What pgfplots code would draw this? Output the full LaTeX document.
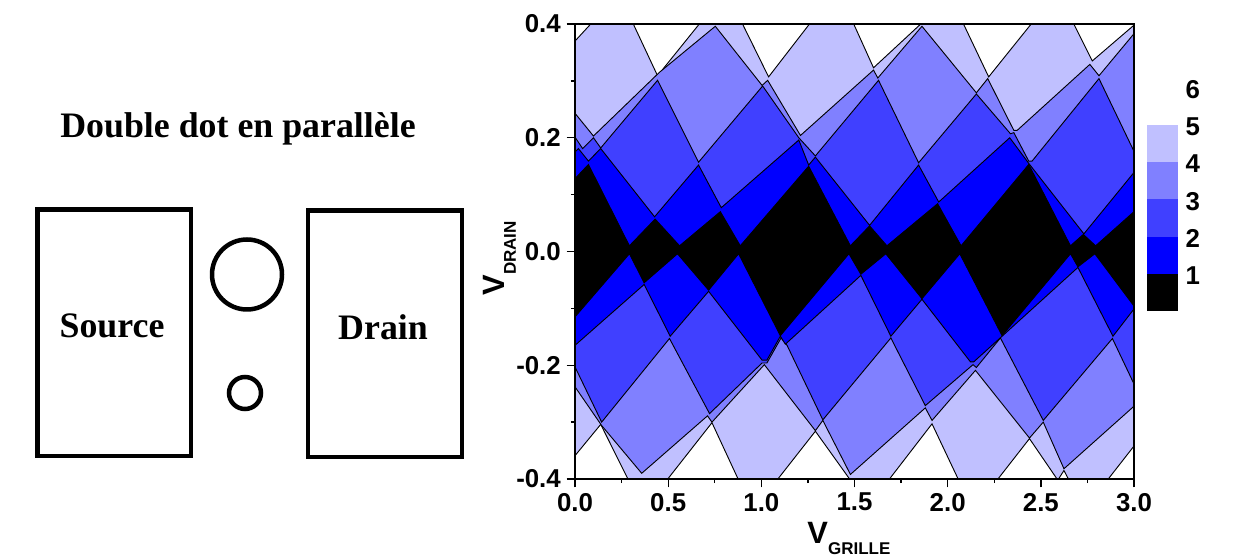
\documentclass[border=0pt]{standalone}
\usepackage{fontspec}
\setmainfont{Liberation Sans}
\newfontfamily\serifb{Liberation Serif}[BoldFont={Liberation Serif Bold}]
\usepackage{pgfplots}
\pgfplotsset{compat=1.18}
\definecolor{lA}{HTML}{000000}
\definecolor{lB}{HTML}{0000FF}
\definecolor{lC}{HTML}{4040FF}
\definecolor{lD}{HTML}{8080FF}
\definecolor{lE}{HTML}{C0C0FF}
\begin{document}
\begin{tikzpicture}[x=1pt,y=1pt]
\path[use as bounding box] (0,0) rectangle (745.8pt,333.6pt);
\begin{axis}[
  at={(345pt,46.2pt)},anchor=south west,scale only axis,
  width=335.4pt,height=273pt,
  xmin=0,xmax=3,ymin=-0.4,ymax=0.4,
  axis on top,
  axis line style={line width=0.9pt},
  xtick={0,0.5,1,1.5,2,2.5,3},xticklabels={0.0,0.5,1.0,1.5,2.0,2.5,3.0},
  ytick={-0.4,-0.2,0,0.2,0.4},yticklabels={-0.4,-0.2,0.0,0.2,0.4},
  minor xtick={0.25,0.75,1.25,1.75,2.25,2.75},
  minor ytick={-0.3,-0.1,0.1,0.3},
  tick pos=left,tick align=outside,
  major tick length=5pt,minor tick length=2.5pt,
  every tick/.style={line width=0.8pt,black},
  ticklabel style={font=\fontsize{15.5}{15.5}\selectfont\bfseries},
  xlabel={\fontsize{18.5}{19}\selectfont\bfseries V\raisebox{-6.6pt}{\fontsize{10.2}{10}\selectfont GRILLE}},
  ylabel={\fontsize{18.5}{19}\selectfont\bfseries V\raisebox{-6.6pt}{\fontsize{10.2}{10}\selectfont DRAIN}},
  xlabel style={at={(axis description cs:0.49,0)},anchor=north,yshift=-22.5pt},
  ylabel style={at={(axis description cs:0,0.485)},anchor=south,yshift=32pt},
  every axis plot/.style={line width=0.55pt,draw=black},
]
% level 5
\addplot[fill=lE] coordinates {
(0,.370)(.090,.402)(.310,.402)(.443,.309)(.672,.402)(.896,.402)(1.039,.307)(1.263,.402)(1.493,.402)
(1.602,.323)(1.862,.402)(2.082,.402)(2.220,.307)(2.453,.402)(2.674,.402)(2.776,.335)(3.0,.398)
(3.0,-.342)(2.857,-.402)(2.651,-.402)(2.624,-.385)(2.591,-.402)(2.439,-.329)(2.265,-.402)(2.059,-.402)
(1.916,-.303)(1.683,-.402)(1.478,-.402)(1.290,-.316)(1.084,-.402)(.878,-.402)(.735,-.301)(.493,-.402)
(.287,-.402)(.138,-.304)(0,-.359)} --cycle;
% level 4
\addplot[fill=lD] coordinates {
(0,.243)(.099,.203)(.453,.315)(.753,.396)(1.004,.292)(1.034,.301)(1.210,.204)
(1.602,.319)(1.625,.305)(1.862,.396)(2.154,.279)(2.215,.304)(2.355,.213)(2.373,.213)(2.763,.329)(2.812,.309)(3.0,.383)
(3.0,-.272)(2.624,-.382)(2.513,-.300)(2.439,-.328)(2.149,-.209)(1.916,-.297)(1.880,-.275)
(1.478,-.392)(1.330,-.297)(1.290,-.315)(1.016,-.199)(.735,-.300)(.711,-.289)(.358,-.390)(.143,-.306)(0,-.238)} --cycle;
% level 3
\addplot[fill=lC] coordinates {
(0,.201)(.041,.181)(.099,.200)(.138,.182)(.443,.301)(.663,.157)(1.007,.291)(1.201,.200)(1.290,.168)
(1.629,.301)(1.844,.156)(2.154,.277)(2.337,.207)(2.355,.209)(2.435,.159)(2.453,.159)(2.812,.304)(3.0,.176)
(3.0,-.233)(2.884,-.153)(2.513,-.297)(2.283,-.152)(2.154,-.204)(2.136,-.199)(1.880,-.271)(1.695,-.152)
(1.330,-.296)(1.138,-.165)(1.106,-.152)(1.030,-.196)(1.004,-.196)(.722,-.285)(.507,-.153)(.143,-.300)(0,-.203)} --cycle;
% level 2
\addplot[fill=lB] coordinates {
(0,.175)(.018,.181)(.072,.159)(.138,.181)(.427,.061)(.663,.152)(.785,.077)(1.201,.196)(1.254,.152)(1.290,.166)
(1.581,.046)(1.844,.152)(1.952,.087)(2.333,.200)(2.435,.155)(2.731,.031)(3.0,.139)
(3.0,-.101)(2.887,-.149)(2.699,-.028)(2.292,-.149)(2.140,-.194)(2.122,-.194)(1.862,-.084)(1.695,-.149)(1.534,-.042)
(1.129,-.163)(1.102,-.149)(1.030,-.191)(1.004,-.191)(.717,-.070)(.511,-.149)(.371,-.058)(0,-.165)} --cycle;
% level 1
\addplot[fill=lA] coordinates {
(0,.128)(.072,.153)(.292,.010)(.430,.057)(.561,.010)(.780,.070)(.887,.010)(1.254,.150)(1.478,.010)
(1.581,.045)(1.674,.010)(1.946,.084)(2.072,.010)(2.435,.153)(2.659,.010)(2.728,.030)(2.794,.010)(3.0,.070)
(3.0,-.096)(2.790,-.004)(2.699,-.027)(2.659,-.004)(2.292,-.148)(2.065,-.004)(1.862,-.083)(1.668,-.004)(1.534,-.040)
(1.470,-.004)(1.102,-.148)(.878,-.004)(.717,-.068)(.550,-.004)(.371,-.055)(.292,-.004)(0,-.115)} --cycle;
\end{axis}
% colour key
\begin{axis}[
  at={(688.2pt,147pt)},anchor=south west,scale only axis,
  width=18.6pt,height=133.8pt,
  xmin=0,xmax=1,ymin=0,ymax=6,
  axis line style={draw=none},
  xtick=\empty,
  ytick={1,2,3,4,5,6},
  yticklabel pos=right,
  tick style={draw=none},
  yticklabel style={font=\fontsize{15.5}{15.5}\selectfont\bfseries,xshift=1pt,yshift=-1pt,anchor=west},
  /pgf/number format/assume math mode=true,
  every axis plot/.style={draw=none},
]
\addplot[fill=lA] coordinates {(0,0)(1,0)(1,1)(0,1)} --cycle;
\addplot[fill=lB] coordinates {(0,1)(1,1)(1,2)(0,2)} --cycle;
\addplot[fill=lC] coordinates {(0,2)(1,2)(1,3)(0,3)} --cycle;
\addplot[fill=lD] coordinates {(0,3)(1,3)(1,4)(0,4)} --cycle;
\addplot[fill=lE] coordinates {(0,4)(1,4)(1,5)(0,5)} --cycle;
\end{axis}
% schematic
\begin{scope}[x=0.6pt,y=-0.6pt,yshift=333.6pt]
\draw[line width=2.7pt] (37.5,209.5) rectangle (191,456);
\draw[line width=2.7pt] (308,210.5) rectangle (462,457);
\draw[line width=2.7pt] (247,274.5) circle (35);
\draw[line width=2.7pt] (245,393) circle (16);
\node[font=\serifb\fontsize{21.5}{21.5}\selectfont\bfseries] at (238,129) {Double dot en parallèle};
\node[font=\serifb\fontsize{21.5}{21.5}\selectfont\bfseries] at (112,326) {Source};
\node[font=\serifb\fontsize{21.5}{21.5}\selectfont\bfseries] at (383,327) {Drain};
\end{scope}
\end{tikzpicture}
\end{document}
